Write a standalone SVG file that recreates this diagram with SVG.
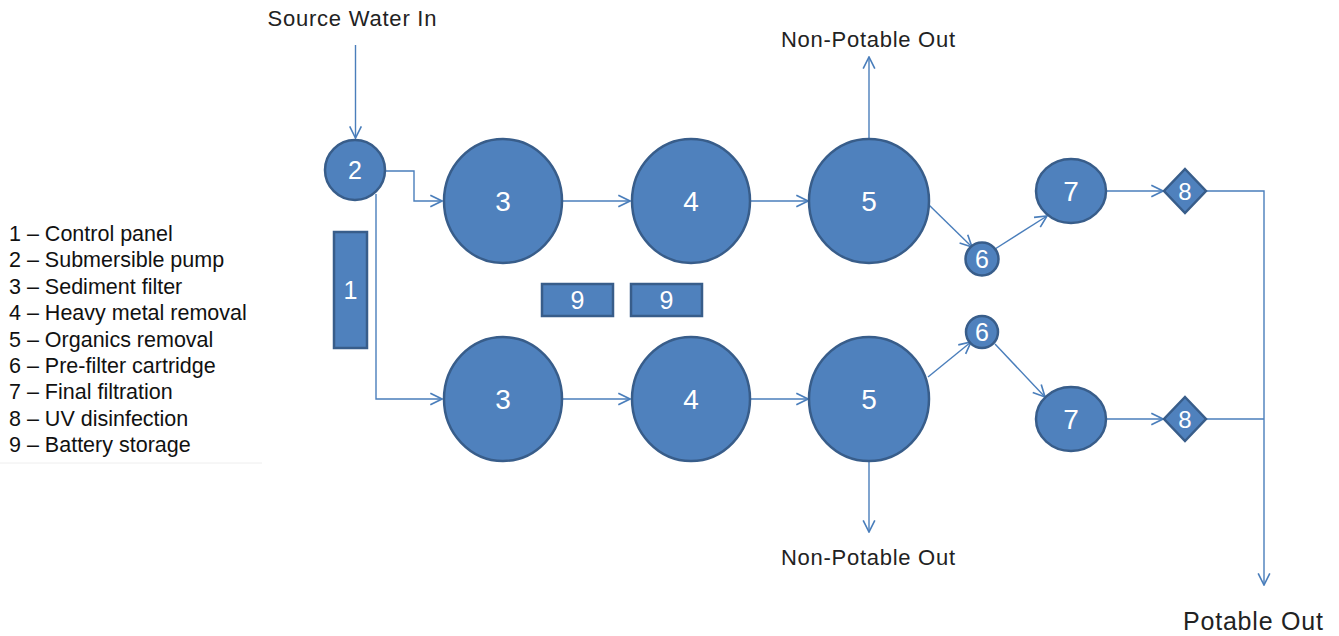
<svg xmlns="http://www.w3.org/2000/svg" width="1339" height="636" viewBox="0 0 1339 636">
<defs>
<style>
.shape{fill:#4F81BD;stroke:#385D8A;stroke-width:2.5}
.num{fill:#ffffff;font-family:"Liberation Sans",Arial,sans-serif;text-anchor:middle}
.conn{fill:none;stroke:#4A7EBB;stroke-width:1.4}
.lbl{fill:#222;font-family:"Liberation Sans",Arial,sans-serif;font-size:22px}
.leg{fill:#111;font-family:"Liberation Sans",Arial,sans-serif;font-size:21.5px}
</style>
<marker id="arr" markerUnits="userSpaceOnUse" markerWidth="14" markerHeight="14" viewBox="0 0 12 12" refX="11" refY="6" orient="auto">
<path d="M1,1 L11,6 L1,11" fill="none" stroke="#4A7EBB" stroke-width="1.4"/>
</marker>
</defs>
<rect width="1339" height="636" fill="#ffffff"/>

<g id="legend">
<text class="leg" x="9" y="241">1 – Control panel</text>
<text class="leg" x="9" y="267">2 – Submersible pump</text>
<text class="leg" x="9" y="294">3 – Sediment filter</text>
<text class="leg" x="9" y="320">4 – Heavy metal removal</text>
<text class="leg" x="9" y="347">5 – Organics removal</text>
<text class="leg" x="9" y="373">6 – Pre-filter cartridge</text>
<text class="leg" x="9" y="399">7 – Final filtration</text>
<text class="leg" x="9" y="426">8 – UV disinfection</text>
<text class="leg" x="9" y="452">9 – Battery storage</text>
<line x1="0" y1="463" x2="262" y2="463" stroke="#eeeeee" stroke-width="1"/>
</g>

<g id="labels">
<text class="lbl" x="352" y="26" text-anchor="middle" textLength="169" lengthAdjust="spacing">Source Water In</text>
<text class="lbl" x="868" y="47" text-anchor="middle" textLength="174" lengthAdjust="spacing">Non-Potable Out</text>
<text class="lbl" x="868" y="565" text-anchor="middle" textLength="174" lengthAdjust="spacing">Non-Potable Out</text>
<text class="lbl" x="1253" y="630" text-anchor="middle" style="font-size:25px" textLength="140" lengthAdjust="spacing">Potable Out</text>
</g>

<g id="connectors">
<path class="conn" d="M355.5,45 V138" marker-end="url(#arr)"/>
<path class="conn" d="M386,171 H414 V201 H442" marker-end="url(#arr)"/>
<path class="conn" d="M376,194 V399 H442" marker-end="url(#arr)"/>
<path class="conn" d="M563,201 H630" marker-end="url(#arr)"/>
<path class="conn" d="M751,201 H808" marker-end="url(#arr)"/>
<path class="conn" d="M563,399 H630" marker-end="url(#arr)"/>
<path class="conn" d="M751,399 H808" marker-end="url(#arr)"/>
<path class="conn" d="M869,139 V57" marker-end="url(#arr)"/>
<path class="conn" d="M869,461 V532" marker-end="url(#arr)"/>
<path class="conn" d="M928,204 L972,247" marker-end="url(#arr)"/>
<path class="conn" d="M995,249 L1047,216" marker-end="url(#arr)"/>
<path class="conn" d="M1106,191 H1163" marker-end="url(#arr)"/>
<path class="conn" d="M928,377 L971,342" marker-end="url(#arr)"/>
<path class="conn" d="M995,344 L1045,397" marker-end="url(#arr)"/>
<path class="conn" d="M1106,419 H1163" marker-end="url(#arr)"/>
<path class="conn" d="M1206,191 H1264 V585" marker-end="url(#arr)"/>
<path class="conn" d="M1206,419 H1264"/>
</g>

<g id="node-2">
<circle class="shape" cx="355" cy="170" r="30"/>
<text class="num" x="355" y="179" font-size="25">2</text>
</g>
<g id="node-1">
<rect class="shape" x="334" y="232" width="33" height="116"/>
<text class="num" x="350.5" y="299" font-size="25">1</text>
</g>
<g id="node-3-top">
<ellipse class="shape" cx="503" cy="201" rx="59" ry="62"/>
<text class="num" x="503" y="211" font-size="28">3</text>
</g>
<g id="node-4-top">
<ellipse class="shape" cx="691" cy="201" rx="59" ry="62"/>
<text class="num" x="691" y="211" font-size="28">4</text>
</g>
<g id="node-5-top">
<ellipse class="shape" cx="869" cy="201" rx="60" ry="62"/>
<text class="num" x="869" y="211" font-size="28">5</text>
</g>
<g id="node-3-bottom">
<ellipse class="shape" cx="503" cy="399" rx="59" ry="62"/>
<text class="num" x="503" y="409" font-size="28">3</text>
</g>
<g id="node-4-bottom">
<ellipse class="shape" cx="691" cy="399" rx="59" ry="62"/>
<text class="num" x="691" y="409" font-size="28">4</text>
</g>
<g id="node-5-bottom">
<ellipse class="shape" cx="869" cy="399" rx="60" ry="62"/>
<text class="num" x="869" y="409" font-size="28">5</text>
</g>
<g id="node-9-a">
<rect class="shape" x="542" y="284" width="71" height="32"/>
<text class="num" x="577.5" y="309" font-size="25">9</text>
</g>
<g id="node-9-b">
<rect class="shape" x="631" y="284" width="71" height="32"/>
<text class="num" x="666.5" y="309" font-size="25">9</text>
</g>
<g id="node-6-top">
<circle class="shape" cx="982" cy="259" r="16.5"/>
<text class="num" x="982" y="268" font-size="25">6</text>
</g>
<g id="node-6-bottom">
<circle class="shape" cx="982" cy="332" r="16"/>
<text class="num" x="982" y="341" font-size="25">6</text>
</g>
<g id="node-7-top">
<ellipse class="shape" cx="1071" cy="191" rx="35" ry="32"/>
<text class="num" x="1071" y="201" font-size="28">7</text>
</g>
<g id="node-7-bottom">
<ellipse class="shape" cx="1071" cy="419" rx="35" ry="32"/>
<text class="num" x="1071" y="429" font-size="28">7</text>
</g>
<g id="node-8-top">
<polygon class="shape" points="1185,169 1206,191 1185,213 1164,191"/>
<text class="num" x="1185" y="200" font-size="24">8</text>
</g>
<g id="node-8-bottom">
<polygon class="shape" points="1185,397 1206,419 1185,441 1164,419"/>
<text class="num" x="1185" y="428" font-size="24">8</text>
</g>
</svg>
